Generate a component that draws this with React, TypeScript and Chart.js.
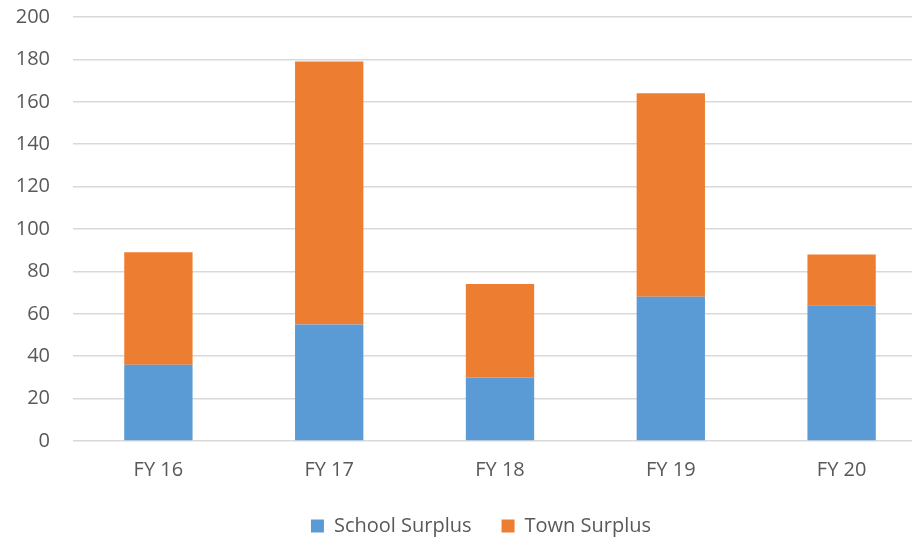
import React, { useEffect, useRef } from "react";
import { Chart, registerables } from "chart.js";

Chart.register(...registerables);

const categories = ["FY 16", "FY 17", "FY 18", "FY 19", "FY 20"];
const schoolSurplus = [36, 55, 30, 68, 64];
const townSurplus = [53, 124, 44, 96, 24];
const yTicks = { min: 0, max: 200, step: 20 };

const FONT = "'Open Sans', 'DejaVu Sans', sans-serif";
const TEXT = "#595959";

export default function App() {
  const ref = useRef<HTMLCanvasElement | null>(null);

  useEffect(() => {
    if (!ref.current) return;
    const chart = new Chart(ref.current, {
      type: "bar",
      data: {
        labels: categories,
        datasets: [
          {
            label: "School Surplus",
            data: schoolSurplus,
            backgroundColor: "#5b9bd5",
            borderWidth: 0,
            categoryPercentage: 1,
            barPercentage: 0.4,
          },
          {
            label: "Town Surplus",
            data: townSurplus,
            backgroundColor: "#ed7d31",
            borderWidth: 0,
            categoryPercentage: 1,
            barPercentage: 0.4,
          },
        ],
      },
      options: {
        responsive: false,
        animation: false,
        layout: { padding: { top: 17, left: 0, right: 0, bottom: 0 } },
        scales: {
          x: {
            stacked: true,
            grid: { display: false, drawTicks: false },
            border: { display: false },
            ticks: { color: TEXT, font: { family: FONT, size: 20 }, padding: 17 },
            afterFit: (s: any) => {
              s.height = 45;
            },
          },
          y: {
            stacked: true,
            min: yTicks.min,
            max: yTicks.max,
            grid: { color: "#d9d9d9", lineWidth: 1.5, drawTicks: false },
            border: { display: false },
            ticks: {
              stepSize: yTicks.step,
              color: TEXT,
              font: { family: FONT, size: 20 },
              padding: 23,
            },
            afterFit: (s: any) => {
              s.width = 73;
              s.paddingTop = 0;
              s.paddingBottom = 0;
            },
          },
          yPad: {
            position: "right",
            display: true,
            grid: { display: false, drawTicks: false },
            border: { display: false },
            ticks: { display: false },
            afterFit: (s: any) => {
              s.width = 35;
              s.paddingTop = 0;
              s.paddingBottom = 0;
            },
          },
        },
        plugins: {
          legend: {
            position: "bottom",
            labels: {
              color: TEXT,
              font: { family: FONT, size: 20 },
              boxWidth: 13,
              boxHeight: 13,
              padding: 30,
            },
          },
          tooltip: { enabled: false },
        },
      },
    });
    return () => chart.destroy();
  }, []);

  return (
    <div
      style={{
        position: "absolute",
        left: 0,
        top: 0,
        width: 912,
        height: 537,
        overflow: "hidden",
        background: "#fff",
      }}
    >
      <canvas ref={ref} width={962} height={546} style={{ width: 962, height: 546, display: "block" }} />
    </div>
  );
}
